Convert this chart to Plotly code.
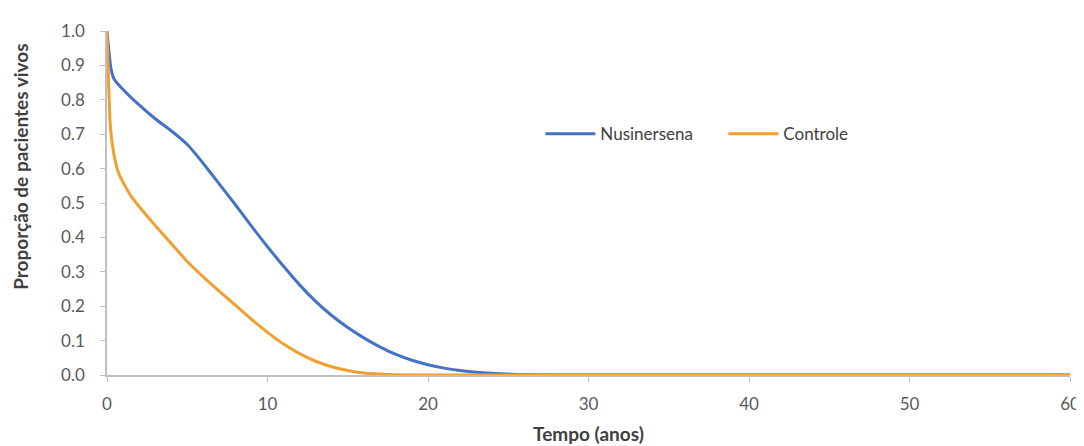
import plotly.graph_objects as go

# Data
t_nus = [0, 0.1, 0.25, 0.45, 1, 2, 3, 4, 5, 6, 7, 8, 9, 10, 11, 12, 13, 14, 15, 16,
         17, 18, 19, 20, 21, 22, 23, 24, 25, 26, 30, 40, 50, 60]
v_nus = [1.0, 0.95, 0.89, 0.86, 0.83, 0.785, 0.745, 0.71, 0.67, 0.615, 0.555, 0.495, 0.433,
         0.373, 0.316, 0.262, 0.214, 0.173, 0.138, 0.108, 0.082, 0.06, 0.043, 0.03, 0.02,
         0.013, 0.008, 0.005, 0.003, 0.001, 0, 0, 0, 0]

t_ctl = [0, 0.1, 0.2, 0.4, 0.7, 1, 1.5, 2, 3, 4, 5, 6, 7, 8, 9, 10, 11, 12, 13, 14, 15,
         16, 17, 18, 20, 30, 40, 50, 60]
v_ctl = [1.0, 0.85, 0.73, 0.65, 0.59, 0.56, 0.52, 0.49, 0.435, 0.382, 0.33, 0.285, 0.243,
         0.203, 0.162, 0.124, 0.09, 0.062, 0.04, 0.024, 0.013, 0.006, 0.003, 0.001, 0, 0, 0, 0, 0]

x_ticks = [0, 10, 20, 30, 40, 50, 60]
y_ticks = [0.0, 0.1, 0.2, 0.3, 0.4, 0.5, 0.6, 0.7, 0.8, 0.9, 1.0]

FONT = "Lato"
BLUE = "#4472C4"
ORANGE = "#F0A030"
AXIS = "#BFBFBF"

fig = go.Figure()
fig.add_trace(go.Scatter(x=t_nus, y=v_nus, mode="lines", name="Nusinersena", legend="legend",
                         line=dict(color=BLUE, width=3, shape="spline", smoothing=0.6),
                         cliponaxis=False))
fig.add_trace(go.Scatter(x=t_ctl, y=v_ctl, mode="lines", name="Controle", legend="legend2",
                         line=dict(color=ORANGE, width=3, shape="spline", smoothing=0.6),
                         cliponaxis=False))

leg_common = dict(orientation="h", yanchor="middle", xanchor="left", y=0.70,
                  font=dict(size=17, color="#404040"), bgcolor="rgba(0,0,0,0)",
                  itemwidth=50)

fig.update_layout(
    width=1084, height=446,
    margin=dict(l=99, r=21, t=19, b=78),
    paper_bgcolor="white", plot_bgcolor="white",
    font=dict(family=FONT, color="#595959", size=17),
    legend=dict(x=0.450, **leg_common),
    legend2=dict(x=0.640, **leg_common),
    showlegend=True,
    annotations=[dict(text="<b>Proporção de pacientes vivos</b>", textangle=-90,
                      xref="paper", yref="paper", x=-0.090, y=0.606,
                      xanchor="center", yanchor="middle", showarrow=False,
                      font=dict(size=19, color="#404040"))],
)
fig.update_xaxes(range=[0, 60], tickvals=x_ticks, ticktext=[str(v) for v in x_ticks],
                 showgrid=False, zeroline=False, showline=True, linecolor=AXIS, linewidth=1.5,
                 ticks="outside", ticklen=5, tickcolor=AXIS, ticklabelstandoff=8,
                 title=dict(text="<b>Tempo (anos)</b>", font=dict(size=19, color="#404040"),
                            standoff=15))
fig.update_yaxes(range=[0, 1.0], tickvals=y_ticks, ticktext=[f"{v:.1f}" for v in y_ticks],
                 showgrid=False, zeroline=False, showline=True, linecolor=AXIS, linewidth=1.5,
                 ticks="outside", ticklen=5, tickcolor=AXIS, ticklabelstandoff=12)

fig.write_html("out.html")
